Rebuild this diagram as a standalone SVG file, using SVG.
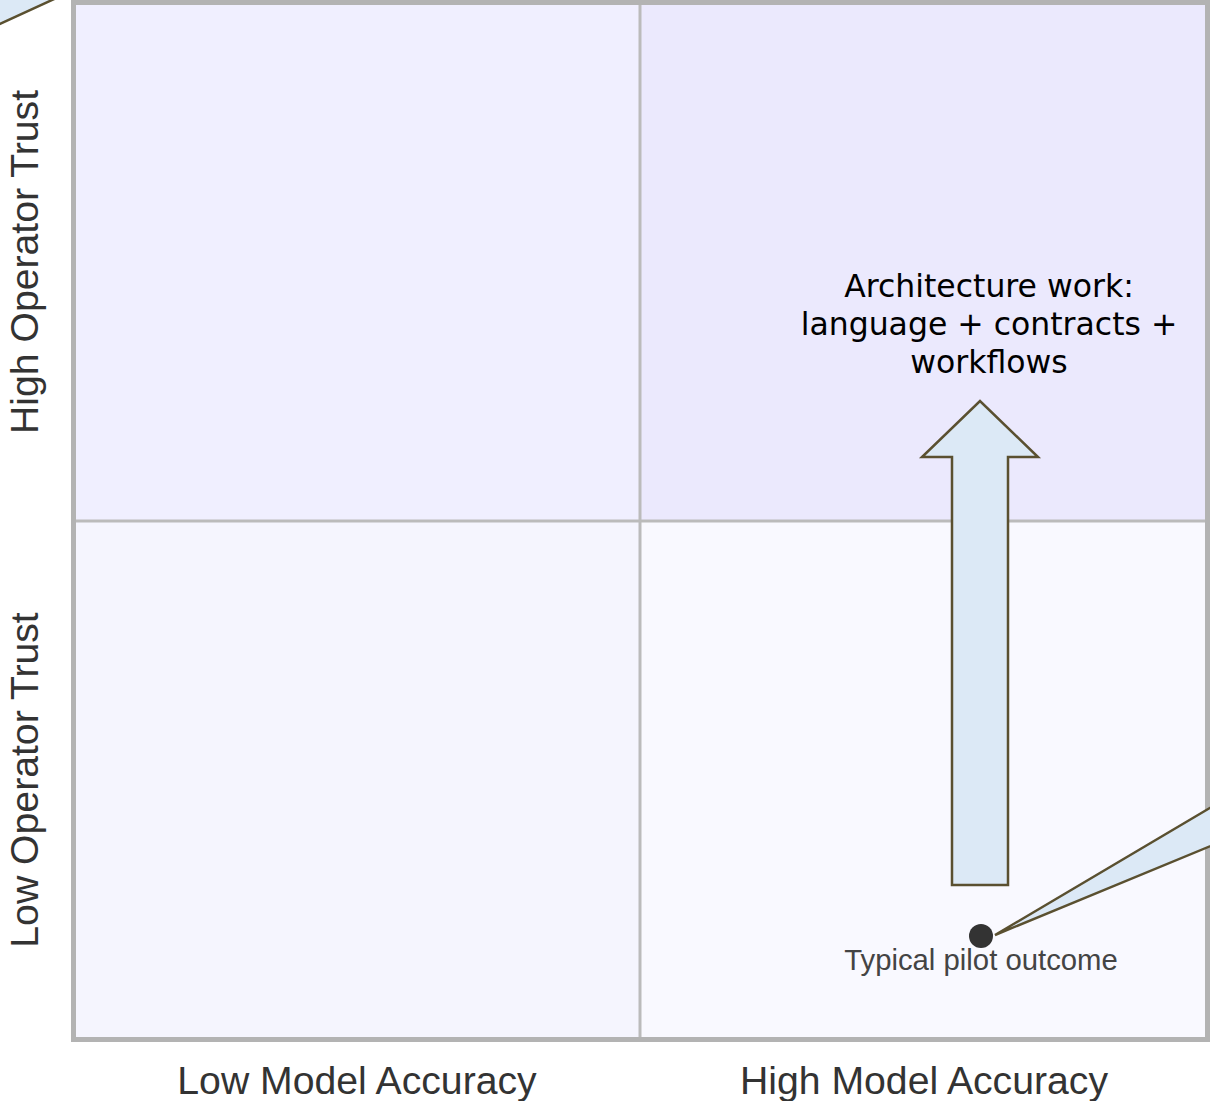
<svg xmlns="http://www.w3.org/2000/svg" width="1210" height="1101" viewBox="0 0 1210 1101">
<style>
.axis{font-family:"Liberation Sans",Arial,sans-serif;font-size:39.2px;fill:#333;text-anchor:middle}
.note{font-family:"DejaVu Sans",Inter,sans-serif;font-size:31.5px;fill:#000;text-anchor:middle}
.pt{font-family:"Liberation Sans",Arial,sans-serif;font-size:29.3px;fill:#444;text-anchor:middle}
.callout{fill:#dce9f6;stroke:#5a5030;stroke-width:2.5;stroke-linejoin:miter}
.grid{stroke:#bbb;stroke-width:3;fill:none}
</style>
<rect width="1210" height="1101" fill="#fff"/>
<g id="quadrants">
<rect x="73.5" y="2.5" width="566.5" height="518.5" fill="#f0efff"/>
<rect x="640" y="2.5" width="567.5" height="518.5" fill="#ebe9fd"/>
<rect x="73.5" y="521" width="566.5" height="518.5" fill="#f5f5fe"/>
<rect x="640" y="521" width="567.5" height="518.5" fill="#f9f9ff"/>
<line class="grid" x1="640" y1="2.5" x2="640" y2="1039.5"/>
<line class="grid" x1="73.5" y1="521" x2="1207.5" y2="521"/>
<rect x="73.5" y="2.5" width="1134" height="1037" fill="none" stroke="#b3b3b3" stroke-width="5"/>
</g>
<g id="labels">
<text class="axis" x="357" y="1094">Low Model Accuracy</text>
<text class="axis" x="924" y="1094">High Model Accuracy</text>
<text class="axis" transform="translate(38,262) rotate(-90)">High Operator Trust</text>
<text class="axis" transform="translate(38,780) rotate(-90)">Low Operator Trust</text>
</g>
<g id="connectors">
<polygon class="callout" points="-20,33.2 62,-4.6 -20,-4.6"/>
<polygon class="callout" points="995,935 1230,796 1230,838"/>
</g>
<g id="arrow">
<polygon class="callout" points="952,885 1008,885 1008,457 1038,457 980,401 922,457 952,457"/>
<text class="note" x="989" y="297">Architecture work:</text>
<text class="note" x="989" y="335">language + contracts +</text>
<text class="note" x="989" y="373">workflows</text>
</g>
<g id="pilot">
<circle cx="981" cy="936" r="12" fill="#333"/>
<text class="pt" x="981" y="970">Typical pilot outcome</text>
</g>
</svg>
